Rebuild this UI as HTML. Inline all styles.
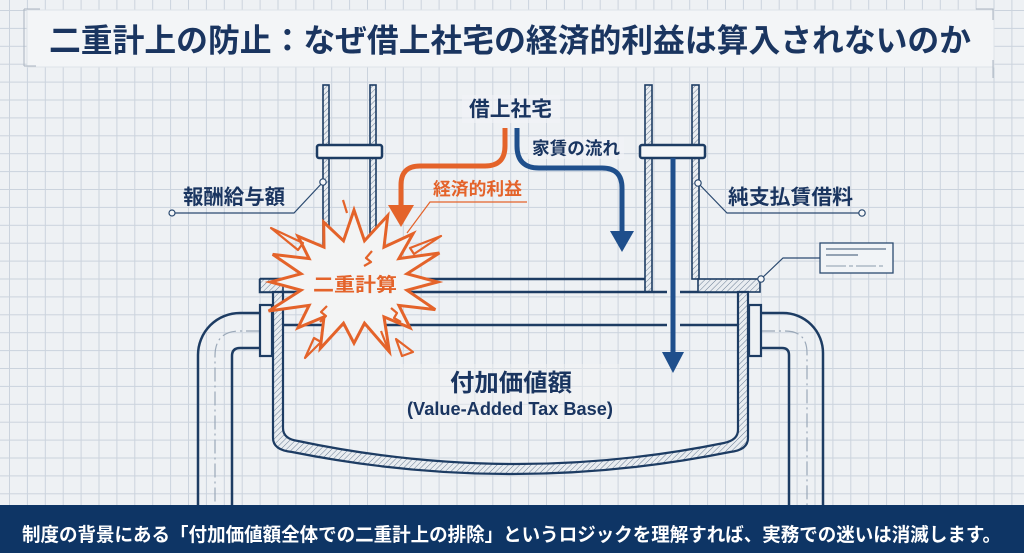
<!DOCTYPE html>
<html><head><meta charset="utf-8"><style>
html,body{margin:0;padding:0;background:#eef1f4;}
svg{display:block;}
text{font-family:"Liberation Sans","Noto Sans CJK JP",sans-serif;font-weight:700;}
</style></head><body>
<svg width="1024" height="553" viewBox="0 0 1024 553" xmlns="http://www.w3.org/2000/svg">
<defs>
<pattern id="grid" x="9" y="10" width="17.9" height="17.9" patternUnits="userSpaceOnUse">
<path d="M0 0.5H17.9M0.5 0V17.9" stroke="#cbd3dd" stroke-width="1" fill="none"/>
</pattern>
<pattern id="hatch" width="4" height="4" patternUnits="userSpaceOnUse" patternTransform="rotate(45)">
<rect width="4" height="4" fill="#e9edf1"/>
<line x1="0" y1="0" x2="0" y2="4" stroke="#6a7d94" stroke-width="1"/>
</pattern>
</defs>
<rect width="1024" height="553" fill="#eef1f4"/>
<rect width="1024" height="553" fill="url(#grid)"/>

<!-- title box -->
<rect x="27" y="10" width="967" height="57" fill="#f3f5f7" stroke="#dde2e8" stroke-width="1"/>
<path d="M24 9V66M24 9H40M24 66H36" stroke="#aab4c0" stroke-width="1" fill="none"/>
<path d="M976 9H993V20M993 60V78" stroke="#aab4c0" stroke-width="1" fill="none"/>
<text x="49" y="51.5" font-size="32" fill="#1a3560" textLength="922" lengthAdjust="spacingAndGlyphs">二重計上の防止：なぜ借上社宅の経済的利益は算入されないのか</text>

<!-- outer side pipes -->
<g fill="none" stroke="#1d3c63" stroke-width="2.5">
<path d="M260 313H240A42 42 0 0 0 198 355V505"/>
<path d="M260 348H240Q232 348 232 356V505"/>
<path d="M761 313H783A40 40 0 0 1 823 353V505"/>
<path d="M761 348H782Q789 348 789 355V505"/>
</g>
<g fill="none" stroke="#9aa8b8" stroke-width="1.2" stroke-dasharray="14 4 2 4">
<path d="M260 331H240Q215 331 215 356V505"/>
<path d="M761 331H785Q807 331 807 353V505"/>
</g>
<rect x="260" y="305" width="12" height="51" fill="#eef1f4" stroke="#1d3c63" stroke-width="2.2"/>
<rect x="749" y="305" width="12" height="51" fill="#eef1f4" stroke="#1d3c63" stroke-width="2.2"/>

<!-- vertical pipes -->
<g fill="url(#hatch)" stroke="#1d3c63" stroke-width="1.6">
<rect x="323" y="85" width="6" height="194"/>
<rect x="370" y="85" width="6" height="194"/>
<rect x="645" y="85" width="7" height="207"/>
<rect x="692" y="85" width="7" height="194"/>
</g>
<rect x="317" y="145" width="65" height="13" rx="2" fill="#f4f6f8" stroke="#1d3c63" stroke-width="2.5"/>
<rect x="640" y="145" width="65" height="13" rx="2" fill="#f4f6f8" stroke="#1d3c63" stroke-width="2.5"/>

<!-- tank top plate -->
<g stroke="#1d3c63" stroke-width="2.5" fill="none">
<path d="M260 279H645"/>
<path d="M260 279V292H667"/>
<path d="M680 292H738"/>
<path d="M283 325H667"/>
<path d="M680 325H738"/>
</g>
<rect x="260" y="279" width="23" height="13" fill="url(#hatch)" stroke="#1d3c63" stroke-width="1.6"/>
<rect x="698" y="279" width="62" height="13" fill="url(#hatch)" stroke="#1d3c63" stroke-width="1.6"/>

<!-- tank shell -->
<path d="M273 292L273 438Q273 450 292 452Q512 496 730 452Q748 450 748 438L748 292L738 292L738 430Q738 440 724 443Q512 486 298 441Q283 439 283 428L283 292Z" fill="url(#hatch)" stroke="#1d3c63" stroke-width="2.2"/>

<!-- annotation box top right -->
<rect x="820" y="243" width="73" height="30" fill="#f1f4f7" stroke="#2b4a70" stroke-width="1.3"/>
<path d="M826 249H886" stroke="#5b708a" stroke-width="1.2"/>
<path d="M826 255H858" stroke="#5b708a" stroke-width="1.2"/>
<path d="M826 266H886" stroke="#8c9bad" stroke-width="1" stroke-dasharray="20 3 4 3"/>
<path d="M761 279L783 258H820" fill="none" stroke="#2b4a70" stroke-width="1.2"/>
<circle cx="761" cy="279" r="3.2" fill="#f4f6f8" stroke="#2b4a70" stroke-width="1.2"/>

<!-- 純支払賃借料 label -->
<path d="M698 183L727 213H862" fill="none" stroke="#2b4a70" stroke-width="1.2"/>
<circle cx="698" cy="183" r="3.2" fill="#f4f6f8" stroke="#2b4a70" stroke-width="1.2"/>
<circle cx="862" cy="213" r="3.2" fill="#f4f6f8" stroke="#2b4a70" stroke-width="1.2"/>
<text x="728" y="204" font-size="20.5" fill="#1a3560" textLength="125" lengthAdjust="spacingAndGlyphs">純支払賃借料</text>

<!-- 報酬給与額 label -->
<path d="M172 213H294L323 182" fill="none" stroke="#2b4a70" stroke-width="1.2"/>
<circle cx="323" cy="182" r="3.2" fill="#f4f6f8" stroke="#2b4a70" stroke-width="1.2"/>
<circle cx="172" cy="213" r="3" fill="#f4f6f8" stroke="#2b4a70" stroke-width="1.2"/>
<text x="183" y="204" font-size="20.5" fill="#1a3560" textLength="102" lengthAdjust="spacingAndGlyphs">報酬給与額</text>

<!-- 借上社宅 -->
<rect x="462" y="95" width="98" height="28" fill="#f2f4f6" opacity="0.6"/>
<text x="469" y="116" font-size="20.5" fill="#1a3560" textLength="83" lengthAdjust="spacingAndGlyphs">借上社宅</text>

<!-- orange arrow -->
<path d="M505 128V146Q505 166 485 166H420Q401 166 401 185V207" fill="none" stroke="#e4632a" stroke-width="5"/>
<polygon points="388,205 414,205 401,227" fill="#e4632a"/>

<!-- blue arrow -->
<rect x="528" y="137" width="96" height="22" fill="#f2f4f6" opacity="0.6"/>
<path d="M517 128V146Q517 168 539 168H602Q622 168 622 188V233" fill="none" stroke="#1f4f8c" stroke-width="5"/>
<polygon points="610,231 634,231 622,252" fill="#1f4f8c"/>
<text x="532" y="154.5" font-size="17.5" fill="#1a3560" textLength="88" lengthAdjust="spacingAndGlyphs">家賃の流れ</text>

<!-- vertical blue arrow -->
<path d="M673 158V356" stroke="#1f4f8c" stroke-width="5"/>
<polygon points="662,352 684,352 673,373" fill="#1f4f8c"/>

<!-- 経済的利益 -->
<text x="433" y="195" font-size="17.5" fill="#e4632a" textLength="89" lengthAdjust="spacingAndGlyphs">経済的利益</text>
<path d="M527 202H430L407 233" fill="none" stroke="#e4632a" stroke-width="1.2"/>

<!-- starburst -->
<polygon points="437.6,282 407,290.2 435.3,309.6 398.9,305.4 410,327.8 384,316.9 389.4,351.9 364.5,323.2 354,343.2 343.5,323.2 320.3,348.5 324,316.9 298,327.8 309.1,305.4 268.6,311 301,290.2 270.4,282 301,273.8 272.7,254.4 309.1,258.6 298,236.2 324,247.1 323.7,222.1 343.5,240.8 354,210 364.5,240.8 387.7,215.5 384,247.1 413.1,233.6 398.9,258.6 439.4,253 407,273.8" fill="#f3f4f4" stroke="#e4632a" stroke-width="3" stroke-linejoin="miter"/>
<g fill="none" stroke="#e4632a" stroke-width="2.2" stroke-linejoin="round">
<polygon points="271,228 303,243 298,250"/>
<polygon points="441,236 410,248 414,254"/>
<polygon points="305,358 321,342 314,338"/>
<polygon points="396,339 413,352 402,356"/>
<path d="M343 200L347 213"/>
<path d="M381 331L388 349"/>
<path d="M372 251L366 258L371 262L364 266"/>
<path d="M391 308L397 313L394 318L401 322"/>
<path d="M327 306L321 312L326 316L320 322"/>
</g>
<text x="313" y="291" font-size="19" fill="#e4632a" textLength="84" lengthAdjust="spacingAndGlyphs">二重計算</text>

<!-- center label -->
<rect x="400" y="364" width="220" height="58" fill="#f2f4f6" opacity="0.4"/>
<text x="450" y="391" font-size="24" fill="#1a3560" textLength="122" lengthAdjust="spacingAndGlyphs">付加価値額</text>
<text x="407" y="415" font-size="18" fill="#1a3560" textLength="206" lengthAdjust="spacingAndGlyphs">(Value-Added Tax Base)</text>

<!-- footer -->
<rect x="0" y="505" width="1024" height="48" fill="#0e3565"/>
<text x="22" y="541" font-size="19" fill="#ffffff" textLength="979" lengthAdjust="spacingAndGlyphs">制度の背景にある「付加価値額全体での二重計上の排除」というロジックを理解すれば、実務での迷いは消滅します。</text>
</svg>
</body></html>
